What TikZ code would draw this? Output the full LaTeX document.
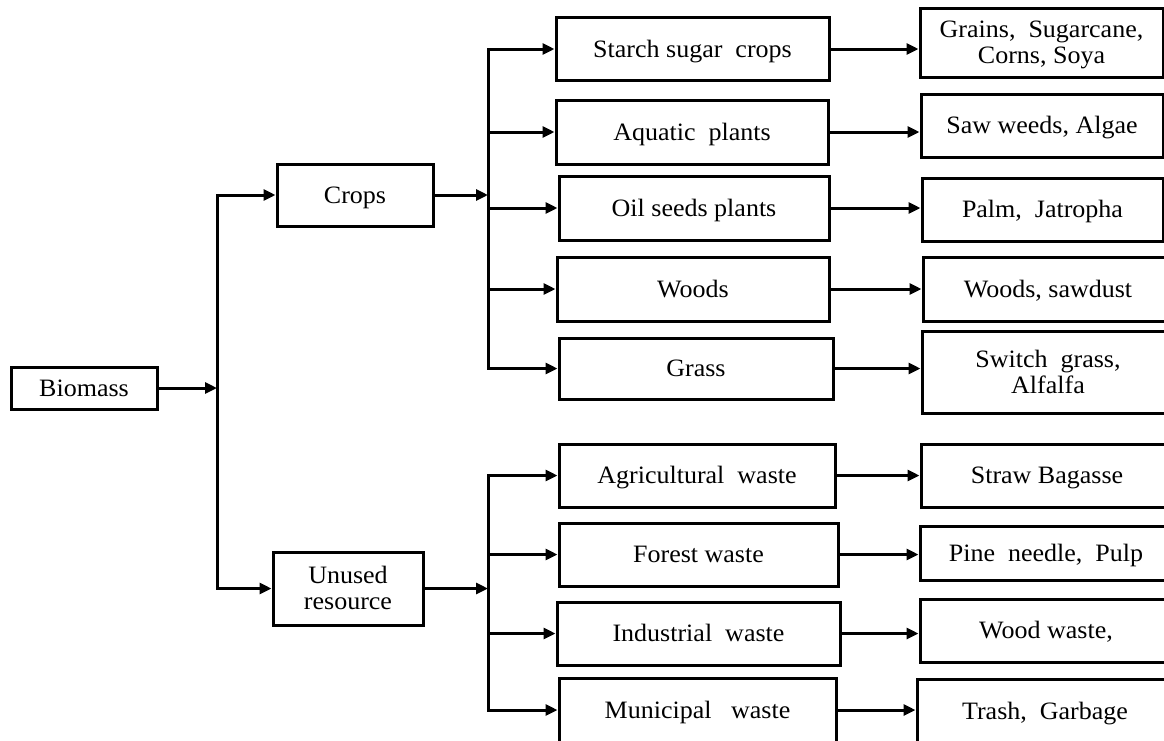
\documentclass[tikz,border=0pt]{standalone}
\usepackage{fontspec}
\setmainfont{Liberation Serif}[FakeStretch=1.04]
\usetikzlibrary{arrows.meta}
\begin{document}
\begin{tikzpicture}[x=1pt,y=-1pt,
  box/.style={draw,line width=3pt,inner sep=0pt,align=center,
    text height=18pt,text depth=2pt,
    font=\fontsize{25}{26}\selectfont},
  twoline/.style={text height=44pt,text depth=2pt},
  link/.style={line width=3pt,-{Triangle[length=12pt,width=11pt]}}]
\useasboundingbox (0,0) rectangle (1164,740);
\clip (0,0) rectangle (1164,740);

% root and first level
\node[box,minimum width=146pt,minimum height=42pt] (bio) at (84,388) {Biomass};
\node[box,minimum width=156pt,minimum height=62pt] (crops) at (355,195) {Crops};
\node[box,twoline,minimum width=150pt,minimum height=73pt] (unused) at (348,588.5) {Unused\\resource};

% crop categories
\node[box,minimum width=273pt,minimum height=63pt] (starch) at (692.5,49) {Starch sugar~ crops};
\node[box,minimum width=272pt,minimum height=64pt] (aquatic) at (692,132) {Aquatic~ plants};
\node[box,minimum width=270pt,minimum height=64pt] (oil) at (694,208) {Oil seeds plants};
\node[box,minimum width=272pt,minimum height=64pt] (woods) at (693,289) {Woods};
\node[box,minimum width=274pt,minimum height=61pt] (grass) at (696,368.5) {Grass};

% waste categories
\node[box,minimum width=276pt,minimum height=63pt] (agri) at (697,475.5) {Agricultural~ waste};
\node[box,minimum width=279pt,minimum height=63pt] (forest) at (698.5,554.5) {Forest waste};
\node[box,minimum width=283pt,minimum height=63pt] (indus) at (698.5,633.5) {Industrial~ waste};
\node[box,minimum width=277pt,minimum height=64pt] (muni) at (697.5,710) {Municipal~~ waste};

% examples
\node[box,twoline,minimum width=243pt,minimum height=69pt] (grains) at (1041.5,42.5) {Grains,~ Sugarcane,\\Corns, Soya};
\node[box,minimum width=242pt,minimum height=63pt] (saw) at (1042,125.5) {Saw weeds, Algae};
\node[box,minimum width=241pt,minimum height=63pt] (palm) at (1042.5,209.5) {Palm,~ Jatropha};
\node[box,minimum width=250pt,minimum height=64pt] (sawdust) at (1048,289) {Woods, sawdust};
\node[box,twoline,minimum width=252pt,minimum height=82pt] (switch) at (1048,372) {Switch~ grass,\\Alfalfa};
\node[box,minimum width=252pt,minimum height=63pt] (straw) at (1047,475.5) {Straw Bagasse};
\node[box,minimum width=252pt,minimum height=54pt] (pine) at (1046,553) {Pine~ needle,~ Pulp};
\node[box,minimum width=252pt,minimum height=63pt] (wwaste) at (1046,630.5) {Wood waste,};
\node[box,minimum width=256pt,minimum height=64pt] (trash) at (1045,711) {Trash,~ Garbage};

% main trunk
\coordinate (trunk) at (217,386);
\draw[link] (bio.east) -- (bio.east -| trunk);
\draw[link] (trunk) |- (crops.west);
\draw[link] (trunk) |- (unused.west);

% crops bus
\coordinate (cbus) at (488,198);
\draw[link] (crops.east) -- (crops.east -| cbus);
\foreach \n in {starch,aquatic,oil,woods,grass}
  \draw[link] (cbus) |- (\n.west);

% unused resource bus
\coordinate (ubus) at (488,586);
\draw[link] (unused.east) -- (unused.east -| ubus);
\foreach \n in {agri,forest,indus,muni}
  \draw[link] (ubus) |- (\n.west);

% category to example links
\draw[link] (starch.east) -- (starch.east -| grains.west);
\draw[link] (aquatic.east) -- (aquatic.east -| saw.west);
\draw[link] (oil.east) -- (oil.east -| palm.west);
\draw[link] (woods.east) -- (woods.east -| sawdust.west);
\draw[link] (grass.east) -- (grass.east -| switch.west);
\draw[link] (agri.east) -- (agri.east -| straw.west);
\draw[link] (forest.east) -- (forest.east -| pine.west);
\draw[link] (indus.east) -- (indus.east -| wwaste.west);
\draw[link] (muni.east) -- (muni.east -| trash.west);
\end{tikzpicture}
\end{document}
